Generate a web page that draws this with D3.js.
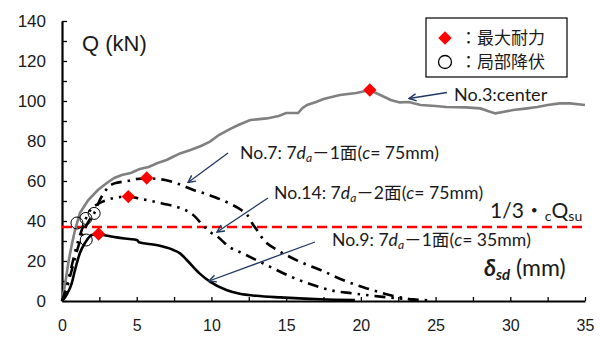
<!DOCTYPE html>
<html>
<head>
<meta charset="utf-8">
<script src="https://cdn.jsdelivr.net/npm/d3@7"></script>
<style>
  body { margin: 0; background: #fff; }
  svg { display: block; }
  .axis path, .axis line { stroke: #000; }
  .lbl { font-family: "Lato", "Noto Sans CJK JP", sans-serif; fill: #1a1a1a; }
</style>
</head>
<body>
<svg id="chart" width="600" height="338"></svg>
<script>
// data (x: delta_sd in mm, y: Q in kN)
var no3 = [[0,0],[0.2,8],[0.42,19],[0.65,28],[0.87,35.5],[1.2,44],[1.5,47.5],[1.76,50.5],[2.4,55.5],[3.0,59],[3.5,61.5],[4.0,63],[4.6,64],[5.2,66],[5.8,67],[6.4,69],[7.0,70.5],[7.4,72],[7.9,73.8],[8.6,75.5],[9.3,77.5],[9.9,79.7],[10.5,83],[11.2,85.8],[11.8,88],[12.6,90.5],[13.7,91.3],[14.5,92.5],[15.0,94],[15.8,94],[16.1,96.5],[16.4,98],[17.0,99.5],[17.5,101],[18.6,103],[19.7,104],[20.6,105.5],[21.3,103],[22.0,100.5],[22.6,99.3],[23.2,99.5],[24,98],[25,97.5],[25.7,97],[27,96.8],[28,96.3],[28.5,95],[29,93.8],[29.5,94.5],[30.2,95.5],[31,96.2],[31.8,97],[32.5,98],[33.3,98.8],[34,98.8],[35,98]];
var no7 = [[0,0],[0.3,6],[0.6,14],[1.0,25],[1.4,34],[1.8,40],[2.15,43.8],[2.5,50],[2.8,54],[3.1,57],[3.5,58.8],[4.4,60],[5.0,61],[5.7,61.3],[6.9,60.5],[7.8,58.5],[8.8,55.5],[9.45,54],[10.2,52],[11.2,48.8],[12.0,45.5],[12.4,43],[12.8,38],[13.0,36],[13.5,30.5],[14.4,25.5],[15,23],[15.9,19.7],[17.3,15.5],[18.8,10.5],[20.4,6.3],[22.4,2.2],[23.5,0.8],[24.8,0.3]];
var no14 = [[0,0],[0.3,7],[0.6,16],[1.0,28],[1.3,35],[1.6,41.3],[1.9,45.5],[2.4,48.5],[3.0,50.5],[3.9,52],[4.44,52.2],[5.3,51],[6.0,50],[6.7,48.8],[7.9,46.5],[8.5,44.5],[8.9,42.2],[9.35,38.5],[10.0,34],[10.35,32.5],[11.2,27],[12.1,23.8],[13,20.5],[13.9,17.2],[15.3,12.2],[16.8,8],[17.9,5.5],[19.5,3.8],[21.3,2.2],[22.6,1.3],[23.6,0.6]];
var no9 = [[0,0],[0.3,3],[0.65,8.8],[0.87,15.5],[1.2,24],[1.54,29],[1.99,33],[2.45,33.5],[2.65,33.2],[3.66,31.8],[4.5,31],[5.0,30.5],[5.2,29.2],[6.3,28],[7.45,25.5],[7.9,23.8],[8.35,20.5],[9.2,13.8],[9.9,9.7],[11,5.5],[11.9,3.6],[13,2.6],[14.6,1.8],[17.3,0.9],[19.6,0.5]];

var peakX = [20.6, 5.67, 4.44, 2.45];
var peakY = [105.5, 61.5, 52.2, 33.5];
var yieldX = [1.0, 2.15, 1.6, 1.62];
var yieldY = [39, 43.8, 41.3, 30.5];

var refLine = 37;   // 1/3 cQsu
var xTicks = [0, 5, 10, 15, 20, 25, 30, 35];
var yTicks = [0, 20, 40, 60, 80, 100, 120, 140];

var svg = d3.select("#chart");
var margin = { top: 21, right: 15, bottom: 37, left: 62 };
var width = 600 - margin.left - margin.right;
var height = 338 - margin.top - margin.bottom;

var g = svg.append("g").attr("transform", "translate(" + margin.left + "," + margin.top + ")");

var x = d3.scaleLinear().domain([0, 35]).range([0, width]);
var y = d3.scaleLinear().domain([0, 140]).range([height, 0]);

// minor ticks first
g.append("g")
    .attr("class", "axis")
    .attr("transform", "translate(0," + height + ")")
    .call(d3.axisBottom(x).tickValues(d3.range(0, 35.1, 2.5)).tickSize(-4).tickFormat(""))
    .call(function (s) { s.select(".domain").remove(); s.selectAll("line").attr("stroke-width", 1.3); });
g.append("g")
    .attr("class", "axis")
    .call(d3.axisLeft(y).tickValues(d3.range(0, 141, 10)).tickSize(-5).tickFormat(""))
    .call(function (s) { s.select(".domain").remove(); s.selectAll("line").attr("stroke-width", 1.3); });

var xAxis = g.append("g")
    .attr("class", "axis")
    .attr("transform", "translate(0," + height + ")")
    .call(d3.axisBottom(x).tickValues(xTicks).tickSize(0).tickPadding(19));
xAxis.select(".domain").attr("stroke-width", 2.2);
xAxis.selectAll("text")
    .attr("font-family", "'Liberation Sans Narrow', 'Liberation Sans', sans-serif")
    .attr("font-size", 16).attr("fill", "#1a1a1a");

var yAxis = g.append("g")
    .attr("class", "axis")
    .call(d3.axisLeft(y).tickValues(yTicks).tickSize(0).tickPadding(16));
yAxis.select(".domain").attr("stroke-width", 2.2);
yAxis.selectAll("text")
    .attr("font-family", "'Liberation Sans', Arial, sans-serif")
    .attr("font-size", 17).attr("fill", "#1a1a1a");

// reference line
g.append("line")
    .attr("x1", x(0)).attr("x2", x(35))
    .attr("y1", y(refLine)).attr("y2", y(refLine))
    .attr("stroke", "#ff0000").attr("stroke-width", 2.5)
    .attr("stroke-dasharray", "10,5");

var line = d3.line()
    .x(function (d) { return x(d[0]); })
    .y(function (d) { return y(d[1]); });
var smooth = d3.line()
    .curve(d3.curveMonotoneX)
    .x(function (d) { return x(d[0]); })
    .y(function (d) { return y(d[1]); });

g.append("path").datum(no3).attr("d", line)
    .attr("fill", "none").attr("stroke", "#808080").attr("stroke-width", 2.6);
g.append("path").datum(no7).attr("d", smooth)
    .attr("fill", "none").attr("stroke", "#000").attr("stroke-width", 2.6)
    .attr("stroke-dasharray", "11,6,2.5,6");
g.append("path").datum(no14).attr("d", smooth)
    .attr("fill", "none").attr("stroke", "#000").attr("stroke-width", 2.6)
    .attr("stroke-dasharray", "11,6,2.5,6,2.5,6");
g.append("path").datum(no9).attr("d", smooth)
    .attr("fill", "none").attr("stroke", "#000").attr("stroke-width", 2.6);

// markers
g.selectAll(".yield").data(yieldX).enter().append("circle")
    .attr("class", "yield")
    .attr("cx", function (d) { return x(d); })
    .attr("cy", function (d, i) { return y(yieldY[i]); })
    .attr("r", 6).attr("fill", "none").attr("stroke", "#000").attr("stroke-width", 1);

var diamond = d3.symbol().type(d3.symbolSquare).size(90);
g.selectAll(".peak").data(peakX).enter().append("path")
    .attr("class", "peak")
    .attr("d", diamond)
    .attr("transform", function (d, i) { return "translate(" + x(d) + "," + y(peakY[i]) + ") rotate(45)"; })
    .attr("fill", "#ff0000");

// arrows
svg.append("defs").append("marker")
    .attr("id", "arr").attr("viewBox", "0 0 10 10")
    .attr("refX", 9).attr("refY", 5)
    .attr("markerWidth", 9).attr("markerHeight", 9)
    .attr("markerUnits", "userSpaceOnUse")
    .attr("orient", "auto")
  .append("path")
    .attr("d", "M1,1 L9,5 L1,9")
    .attr("fill", "none").attr("stroke", "#1f3864").attr("stroke-width", 1.6);

var arrows = [
  [[447, 92.5], [409, 98.5]],
  [[228, 153], [188, 182.5]],
  [[268, 198], [217, 232]],
  [[315, 242], [209, 281]]
];
arrows.forEach(function (a) {
  svg.append("line")
    .attr("x1", a[0][0]).attr("y1", a[0][1])
    .attr("x2", a[1][0]).attr("y2", a[1][1])
    .attr("stroke", "#1f3864").attr("stroke-width", 1.3)
    .attr("marker-end", "url(#arr)");
});

// annotation labels
svg.append("text").attr("class", "lbl").attr("x", 454).attr("y", 101)
    .attr("font-size", 18).text("No.3:center");

function specLabel(xp, yp, no, face, cover) {
  var t = svg.append("text").attr("class", "lbl").attr("x", xp).attr("y", yp).attr("font-size", 17.6);
  t.append("tspan").text(no + ": 7");
  t.append("tspan").attr("font-style", "italic").text("d");
  t.append("tspan").attr("font-style", "italic").attr("font-size", 12).attr("dy", 3).text("a");
  t.append("tspan").attr("dy", -3).text("－" + face + "面(");
  t.append("tspan").attr("font-style", "italic").text("c");
  t.append("tspan").text("= " + cover + "mm)");
}
specLabel(240, 159, "No.7", "1", 75);
specLabel(274, 199, "No.14", "2", 75);
specLabel(332, 246, "No.9", "1", 35);

var q = svg.append("text").attr("class", "lbl").attr("x", 490).attr("y", 218).attr("font-size", 21);
q.append("tspan").text("1/3・");
q.append("tspan").attr("font-size", 14).attr("dy", 3).text("c");
q.append("tspan").attr("dy", -3).text("Q");
q.append("tspan").attr("font-size", 14).attr("dy", 3).text("su");

var dl = svg.append("text").attr("class", "lbl").attr("x", 484).attr("y", 276).attr("font-size", 23);
dl.append("tspan").attr("font-weight", "bold").attr("font-style", "italic").text("δ");
dl.append("tspan").attr("font-weight", "bold").attr("font-style", "italic").attr("font-size", 15).attr("dy", 4).text("sd");
dl.append("tspan").attr("dy", -4).text(" (mm)");

svg.append("text").attr("x", 82).attr("y", 51)
    .attr("font-family", "'Liberation Sans', Arial, sans-serif")
    .attr("font-size", 22).attr("fill", "#1a1a1a").text("Q (kN)");

// legend
var leg = svg.append("g");
leg.append("rect").attr("x", 426).attr("y", 18).attr("width", 141).attr("height", 59)
    .attr("fill", "#fff").attr("stroke", "#000").attr("stroke-width", 1.2);
leg.append("path").attr("d", diamond).attr("transform", "translate(445,38) rotate(45)").attr("fill", "#ff0000");
leg.append("circle").attr("cx", 445).attr("cy", 62).attr("r", 6.5)
    .attr("fill", "none").attr("stroke", "#000").attr("stroke-width", 1.3);
leg.append("text").attr("class", "lbl").attr("x", 460).attr("y", 44).attr("font-size", 17).text("：最大耐力");
leg.append("text").attr("class", "lbl").attr("x", 460).attr("y", 68).attr("font-size", 17).text("：局部降伏");
</script>
</body>
</html>
